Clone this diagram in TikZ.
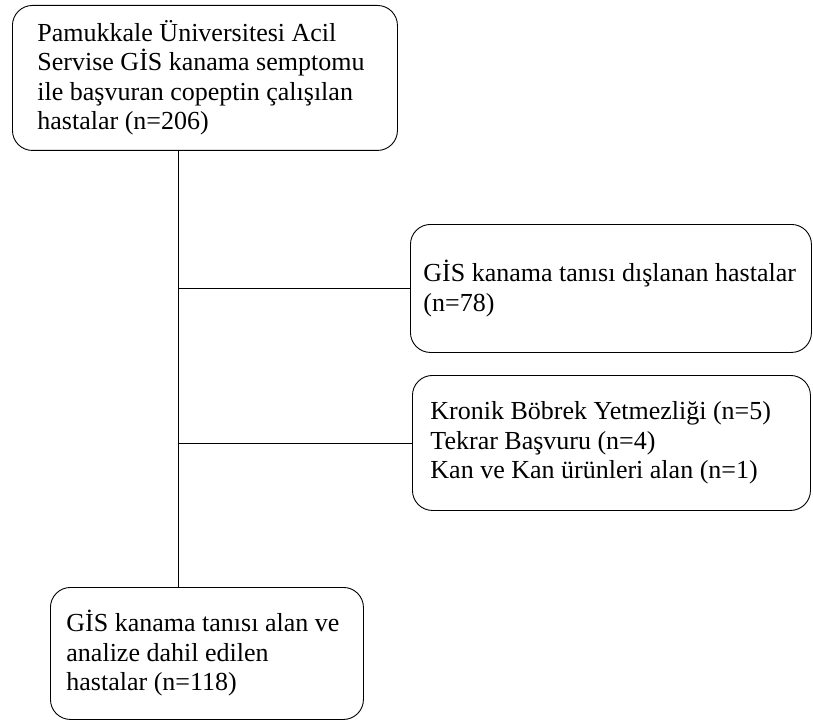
\documentclass[tikz,border=0pt]{standalone}
\usepackage{fontspec}
\setmainfont{Liberation Serif}
\usetikzlibrary{positioning}

\begin{document}
\begin{tikzpicture}[x=1pt,y=-1pt,line width=0.9pt,
  kutu/.style={draw,rounded corners=20pt,anchor=north west,align=flush left,
    font=\fontsize{26}{29.5}\selectfont,inner ysep=0pt,
    execute at begin node={\spaceskip=.25em\relax}}]
\useasboundingbox (0,0) rectangle (813,722);
\node[kutu,inner xsep=25pt,text width=335pt,minimum height=145pt] (0) at (12,5) {Pamukkale Üniversitesi Acil\\Servise GİS kanama semptomu\\ile başvuran copeptin çalışılan\\hastalar (n=206)};
\node[kutu,inner xsep=13pt,text width=375pt,minimum height=128pt] (1) at (410,224) {GİS kanama tanısı dışlanan hastalar\\(n=78)};
\node[kutu,inner xsep=18pt,text width=362pt,minimum height=135pt] (2) at (412,375) {Kronik Böbrek Yetmezliği (n=5)\\Tekrar Başvuru (n=4)\\Kan ve Kan ürünleri alan (n=1)};
\node[kutu,inner xsep=16pt,text width=281pt,minimum height=132pt] (3) at (50,587) {GİS kanama tanısı alan ve\\analize dahil edilen\\hastalar (n=118)};
\coordinate (4) at (178,0);
\draw (0.south -| 4)--(3.north -| 4);
\draw (1.west -| 4)--(1.west);
\draw (2.west -| 4)--(2.west);
\end{tikzpicture}
\end{document}
